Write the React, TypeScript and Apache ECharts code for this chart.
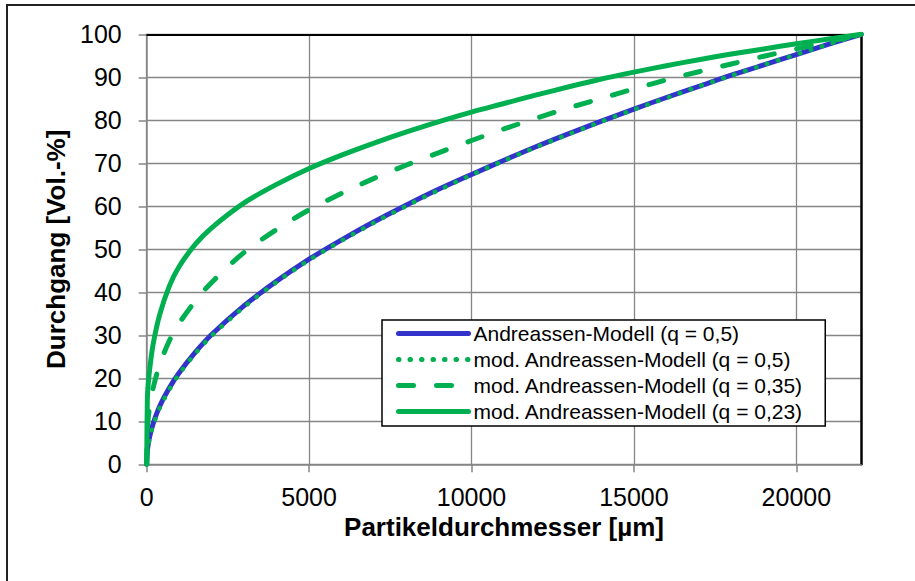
import React, { useEffect, useRef } from "react";
import * as echarts from "echarts";

// Particle diameter [µm]
const diameters = [0, 20, 50, 100, 200, 400, 700, 1000, 1500, 2000, 3000, 4000, 5000, 6000, 7000, 8000, 9000, 10000, 11000, 12000, 13000, 14000, 15000, 16000, 17000, 18000, 19000, 20000, 21000, 22000];

// Passing [Vol.-%]
const andreassen05 = [0, 3.0, 4.8, 6.7, 9.5, 13.5, 17.8, 21.3, 26.1, 30.2, 36.9, 42.6, 47.7, 52.2, 56.4, 60.3, 64.0, 67.4, 70.7, 73.9, 76.9, 79.8, 82.6, 85.3, 87.9, 90.5, 92.9, 95.3, 97.7, 100];
const modAndreassen05 = [0, 2.6, 4.4, 6.3, 9.1, 13.1, 17.4, 21.0, 25.8, 29.9, 36.6, 42.4, 47.5, 52.0, 56.2, 60.1, 63.8, 67.3, 70.6, 73.8, 76.8, 79.7, 82.5, 85.2, 87.9, 90.4, 92.9, 95.3, 97.7, 100];
const modAndreassen035 = [0, 8.0, 11.0, 13.8, 17.8, 23.2, 28.8, 32.8, 38.0, 42.3, 49.3, 54.6, 59.2, 63.0, 66.5, 69.6, 72.5, 75.3, 78.0, 80.5, 82.9, 85.1, 87.3, 89.4, 91.3, 93.1, 94.9, 96.6, 98.3, 100];
const modAndreassen023 = [0, 15.0, 19.0, 22.7, 28.0, 34.8, 41.5, 46.0, 51.2, 55.0, 60.8, 65.1, 68.8, 71.9, 74.7, 77.3, 79.7, 81.9, 83.9, 85.9, 87.8, 89.6, 91.2, 92.7, 94.1, 95.4, 96.6, 97.8, 98.9, 100];

const seriesNames = [
  "Andreassen-Modell (q = 0,5)",
  "mod. Andreassen-Modell (q = 0,5)",
  "mod. Andreassen-Modell (q = 0,35)",
  "mod. Andreassen-Modell (q = 0,23)",
];

const xTicks = [0, 5000, 10000, 15000, 20000];
const xMax = 22000;

const BLUE = "#3333CC";
const GREEN = "#00B050";
const GRIDC = "#868686";
const FONT = "Arial, 'Liberation Sans', sans-serif";

const toPairs = (ys: number[]) => diameters.map((d, i) => [d, ys[i]]);

export default function App() {
  const ref = useRef<HTMLDivElement>(null);
  useEffect(() => {
    if (!ref.current) return;
    const chart = echarts.init(ref.current, undefined, { renderer: "svg" });
    const lineBase = {
      type: "line",
      symbol: "none",
      xAxisIndex: 0,
      yAxisIndex: 0,
      smooth: 0.3,
    };
    chart.setOption({
      animation: false,
      backgroundColor: "#fff",
      textStyle: { fontFamily: FONT },
      graphic: [
        {
          type: "rect",
          shape: { x: 7, y: 5, width: 1000, height: 1000 },
          style: { fill: "none", stroke: "#222", lineWidth: 2 },
          silent: true,
          z: 100,
        },
      ],
      grid: { left: 146.7, top: 34.3, right: 53.7, bottom: 116.7, containLabel: false },
      legend: {
        orient: "vertical",
        left: 382,
        top: 320,
        padding: [3, 22, 4, 14],
        itemGap: 5,
        itemWidth: 70,
        itemHeight: 14,
        backgroundColor: "#fff",
        borderColor: "#000",
        borderWidth: 1.5,
        borderRadius: 0,
        lineStyle: { width: 5 },
        itemStyle: { color: "rgba(0,0,0,0)", borderColor: "rgba(0,0,0,0)", borderWidth: 0, opacity: 0 },
        textStyle: { fontSize: 21, color: "#000", fontFamily: FONT },
        data: seriesNames,
      },
      xAxis: [
        {
          type: "value",
          min: 0,
          max: xMax,
          interval: 5000,
          name: "Partikeldurchmesser [µm]",
          nameLocation: "middle",
          nameGap: 50,
          nameTextStyle: { fontSize: 26, fontWeight: "bold", color: "#000", fontFamily: FONT },
          axisLine: { show: true, lineStyle: { color: GRIDC, width: 1.5 } },
          axisTick: { show: true, inside: false, length: 8, customValues: xTicks, lineStyle: { color: GRIDC, width: 1.5 } },
          axisLabel: {
            fontSize: 25,
            color: "#000",
            margin: 20,
            customValues: xTicks,
            fontFamily: FONT,
            formatter: (v: number) => String(v),
          },
          splitLine: { show: true, lineStyle: { color: GRIDC, width: 1.3 } },
        },
        {
          type: "value",
          position: "top",
          min: 0,
          max: xMax,
          axisLine: { show: true, onZero: false, lineStyle: { color: "#000", width: 2 } },
          axisTick: { show: false },
          axisLabel: { show: false },
          splitLine: { show: false },
        },
      ],
      yAxis: [
        {
          type: "value",
          min: 0,
          max: 100,
          interval: 10,
          name: "Durchgang [Vol.-%]",
          nameLocation: "middle",
          nameGap: 77,
          nameTextStyle: { fontSize: 26, fontWeight: "bold", color: "#000", fontFamily: FONT },
          axisLine: { show: true, lineStyle: { color: GRIDC, width: 1.5 } },
          axisTick: { show: true, inside: false, length: 8, lineStyle: { color: GRIDC, width: 1.5 } },
          axisLabel: { fontSize: 25, color: "#000", margin: 25, fontFamily: FONT },
          splitLine: { show: true, lineStyle: { color: GRIDC, width: 1.3 } },
        },
        {
          type: "value",
          position: "right",
          min: 0,
          max: 100,
          axisLine: { show: true, onZero: false, lineStyle: { color: "#000", width: 2.5 } },
          axisTick: { show: false },
          axisLabel: { show: false },
          splitLine: { show: false },
        },
      ],
      series: [
        {
          ...lineBase,
          name: seriesNames[0],
          data: toPairs(andreassen05),
          lineStyle: { color: BLUE, width: 5, type: "solid", cap: "round", join: "round" },
          itemStyle: { color: BLUE },
          z: 2,
        },
        {
          ...lineBase,
          name: seriesNames[1],
          data: toPairs(modAndreassen05),
          lineStyle: { color: GREEN, width: 4.5, type: [0.5, 11], cap: "round", join: "round" },
          itemStyle: { color: GREEN },
          z: 3,
        },
        {
          ...lineBase,
          name: seriesNames[2],
          data: toPairs(modAndreassen035),
          lineStyle: { color: GREEN, width: 5, type: [15, 23], cap: "round", join: "round" },
          itemStyle: { color: GREEN },
          z: 4,
        },
        {
          ...lineBase,
          name: seriesNames[3],
          data: toPairs(modAndreassen023),
          lineStyle: { color: GREEN, width: 5, type: "solid", cap: "round", join: "round" },
          itemStyle: { color: GREEN },
          z: 5,
        },
      ],
    });
    return () => chart.dispose();
  }, []);
  return (
    <div
      ref={ref}
      style={{ position: "fixed", left: 0, top: 0, width: 915, height: 581 }}
    />
  );
}
